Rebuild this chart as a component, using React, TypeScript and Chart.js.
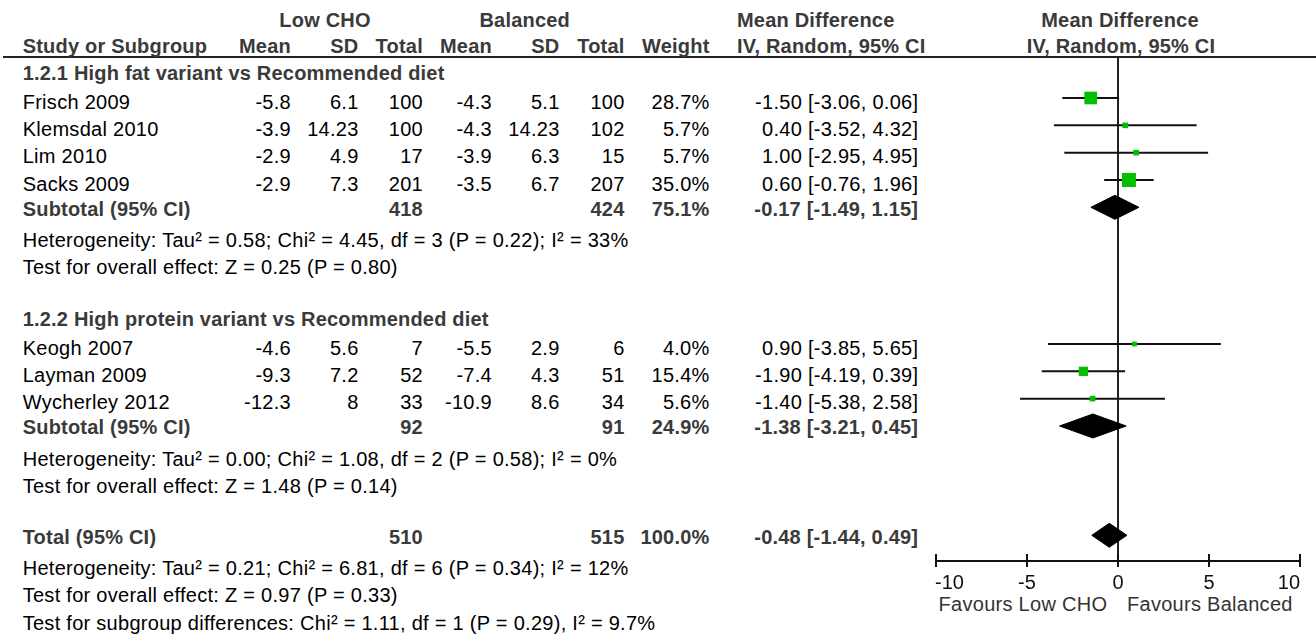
import React, { useEffect, useRef } from "react";
import { Chart, registerables } from "chart.js";

Chart.register(...registerables);

const W = 1316;
const H = 634;
const FONT = '"Liberation Sans", Arial, Helvetica, sans-serif';
const BOLD_COLOR = "#3a3a3a";
const TEXT_COLOR = "#000000";
const GREEN = "#00c000";

// ---------------- data ----------------
const groupTitles = [
  "1.2.1 High fat variant vs Recommended diet",
  "1.2.2 High protein variant vs Recommended diet",
];
const groupRows = [0, 9];

const studyNames = [
  "Frisch 2009",
  "Klemsdal 2010",
  "Lim 2010",
  "Sacks 2009",
  "Keogh 2007",
  "Layman 2009",
  "Wycherley 2012",
];
const studyRows = [1, 2, 3, 4, 10, 11, 12];
const lowMean = [-5.8, -3.9, -2.9, -2.9, -4.6, -9.3, -12.3];
const lowSD = [6.1, 14.23, 4.9, 7.3, 5.6, 7.2, 8];
const lowTotal = [100, 100, 17, 201, 7, 52, 33];
const balMean = [-4.3, -4.3, -3.9, -3.5, -5.5, -7.4, -10.9];
const balSD = [5.1, 14.23, 6.3, 6.7, 2.9, 4.3, 8.6];
const balTotal = [100, 102, 15, 207, 6, 51, 34];
const weights = [28.7, 5.7, 5.7, 35.0, 4.0, 15.4, 5.6];
const md = [-1.5, 0.4, 1.0, 0.6, 0.9, -1.9, -1.4];
const ciLow = [-3.06, -3.52, -2.95, -0.76, -3.85, -4.19, -5.38];
const ciHigh = [0.06, 4.32, 4.95, 1.96, 5.65, 0.39, 2.58];

const pooledLabels = ["Subtotal (95% CI)", "Subtotal (95% CI)", "Total (95% CI)"];
const pooledRows = [5, 13, 17];
const pooledLowTotal = [418, 92, 510];
const pooledBalTotal = [424, 91, 515];
const pooledWeight = [75.1, 24.9, 100.0];
const pooledMd = [-0.17, -1.38, -0.48];
const pooledLo = [-1.49, -3.21, -1.44];
const pooledHi = [1.15, 0.45, 0.49];

const noteTexts = [
  "Heterogeneity: Tau² = 0.58; Chi² = 4.45, df = 3 (P = 0.22); I² = 33%",
  "Test for overall effect: Z = 0.25 (P = 0.80)",
  "Heterogeneity: Tau² = 0.00; Chi² = 1.08, df = 2 (P = 0.58); I² = 0%",
  "Test for overall effect: Z = 1.48 (P = 0.14)",
  "Heterogeneity: Tau² = 0.21; Chi² = 6.81, df = 6 (P = 0.34); I² = 12%",
  "Test for overall effect: Z = 0.97 (P = 0.33)",
  "Test for subgroup differences: Chi² = 1.11, df = 1 (P = 0.29), I² = 9.7%",
];
const noteRows = [6, 7, 14, 15, 18, 19, 20];

const xTicks = [-10, -5, 0, 5, 10];
const favourLabels = ["Favours Low CHO", "Favours Balanced"];
const groupHeaders = ["Low CHO", "Balanced"];
const colHeaders = ["Mean", "SD", "Total", "Mean", "SD", "Total", "Weight"];
const effectHeader = ["Mean Difference", "IV, Random, 95% CI"];

// ---------------- layout ----------------
const Y_MIN = -0.5;
const Y_MAX = 17.94;
const AREA = { left: 936, right: 1300, top: 57, bottom: 561 };
const rowPx = (AREA.bottom - AREA.top) / (Y_MAX - Y_MIN);
const rowY = (r: number) => AREA.top + (r - Y_MIN) * rowPx;

const colRight = [290.7, 358.3, 422.7, 491.7, 559.3, 624.3, 709.3];
const CI_RIGHT = 918;
const NAME_LEFT = 22.7;
const DIAMOND_HALF = 12 / rowPx;

const fmtCI = (m: number, lo: number, hi: number) =>
  `${m.toFixed(2)} [${lo.toFixed(2)}, ${hi.toFixed(2)}]`;

type TxtProps = {
  x: number;
  y: number;
  align?: "left" | "right" | "center";
  bold?: boolean;
  color?: string;
  children: React.ReactNode;
};

function Txt({ x, y, align = "left", bold = false, color, children }: TxtProps) {
  const ls = bold ? 0.2 : 0.28;
  const style: React.CSSProperties = {
    position: "absolute",
    top: y - 9.8,
    fontFamily: FONT,
    fontSize: 20,
    lineHeight: "20px",
    whiteSpace: "nowrap",
    letterSpacing: ls,
    fontWeight: bold ? 700 : 400,
    color: color ?? (bold ? BOLD_COLOR : TEXT_COLOR),
  };
  if (align === "left") style.left = x;
  else if (align === "right") style.right = W - x - ls;
  else {
    style.left = x - 300;
    style.width = 600;
    style.textAlign = "center";
  }
  return <div style={style}>{children}</div>;
}

const axisPlugin = {
  id: "forestAxis",
  afterDraw(chart: any) {
    const { ctx, chartArea } = chart;
    const x = chart.scales.x;
    const yb = chartArea.bottom;
    ctx.save();
    ctx.strokeStyle = "#111";
    ctx.fillStyle = "#111";
    ctx.lineWidth = 2;
    ctx.font = `20px ${FONT}`;
    ctx.textBaseline = "alphabetic";
    const n = x.ticks.length;
    x.ticks.forEach((t: any, i: number) => {
      const px = x.getPixelForValue(t.value);
      ctx.beginPath();
      ctx.moveTo(px, yb - 7);
      ctx.lineTo(px, yb + 6);
      ctx.stroke();
      ctx.textAlign = i === 0 ? "left" : i === n - 1 ? "right" : "center";
      ctx.fillText(String(t.value), i === 0 ? px - 1 : px, yb + 28);
    });
    ctx.restore();
  },
};

export default function App() {
  const canvasRef = useRef<HTMLCanvasElement | null>(null);

  useEffect(() => {
    if (!canvasRef.current) return;
    const datasets: any[] = [];
    studyNames.forEach((name, i) => {
      datasets.push({
        label: name + " CI",
        data: [
          { x: ciLow[i], y: studyRows[i] },
          { x: ciHigh[i], y: studyRows[i] },
        ],
        borderColor: "#111",
        borderWidth: 2,
        pointRadius: 0,
        fill: false,
        tension: 0,
        order: 2,
      });
    });
    const radii = weights.map((w) => (2.366 * Math.sqrt(w)) / Math.SQRT2);
    datasets.push({
      label: "Study estimates",
      data: md.map((m, i) => ({ x: m, y: studyRows[i] })),
      showLine: false,
      pointStyle: "rect",
      pointRadius: radii,
      pointHoverRadius: radii,
      pointBackgroundColor: GREEN,
      pointBorderColor: GREEN,
      pointBorderWidth: 0,
      backgroundColor: GREEN,
      borderColor: GREEN,
      order: 1,
    });
    pooledMd.forEach((m, i) => {
      const r = pooledRows[i];
      datasets.push({
        label: pooledLabels[i],
        data: [
          { x: pooledLo[i], y: r },
          { x: m, y: r - DIAMOND_HALF },
          { x: pooledHi[i], y: r },
          { x: m, y: r + DIAMOND_HALF },
          { x: pooledLo[i], y: r },
        ],
        borderColor: "#000",
        backgroundColor: "#000",
        borderWidth: 1,
        pointRadius: 0,
        fill: "shape",
        tension: 0,
        order: 1,
      });
    });

    const chart = new Chart(canvasRef.current, {
      type: "line",
      data: { datasets },
      options: {
        responsive: false,
        animation: false,
        events: [],
        layout: {
          padding: {
            left: AREA.left,
            right: W - AREA.right,
            top: AREA.top,
            bottom: H - AREA.bottom - 30,
          },
        },
        plugins: {
          legend: { display: false },
          tooltip: { enabled: false },
          title: { display: false },
        },
        scales: {
          x: {
            type: "linear",
            min: -10,
            max: 10,
            afterBuildTicks: (s: any) => {
              s.ticks = xTicks.map((v) => ({ value: v }));
            },
            afterFit: (s: any) => {
              s.height = 30;
            },
            ticks: { display: false },
            grid: {
              display: true,
              drawOnChartArea: true,
              drawTicks: false,
              lineWidth: 2,
              color: (c: any) =>
                c.tick && c.tick.value === 0 ? "#222" : "rgba(0,0,0,0)",
            },
            border: { display: true, color: "#111", width: 2 },
          },
          y: {
            type: "linear",
            min: Y_MIN,
            max: Y_MAX,
            reverse: true,
            display: false,
          },
        },
      } as any,
      plugins: [axisPlugin],
    });
    return () => chart.destroy();
  }, []);

  const items: React.ReactNode[] = [];
  items.push(
    <Txt key="gh0" x={325} y={19.7} align="center" bold>{groupHeaders[0]}</Txt>,
    <Txt key="gh1" x={524.7} y={19.7} align="center" bold>{groupHeaders[1]}</Txt>,
    <Txt key="eh0" x={737} y={19.7} bold>{effectHeader[0]}</Txt>,
    <Txt key="eh1" x={737} y={45.8} bold>{effectHeader[1]}</Txt>,
    <Txt key="ph0" x={1120} y={19.7} align="center" bold>{effectHeader[0]}</Txt>,
    <Txt key="ph1" x={1121} y={45.8} align="center" bold>{effectHeader[1]}</Txt>,
    <Txt key="sh" x={NAME_LEFT} y={45.8} bold>Study or Subgroup</Txt>
  );
  colHeaders.forEach((h, i) =>
    items.push(
      <Txt key={"ch" + i} x={colRight[i]} y={45.8} align="right" bold>{h}</Txt>
    )
  );
  groupTitles.forEach((g, i) =>
    items.push(
      <Txt key={"g" + i} x={NAME_LEFT} y={rowY(groupRows[i]) + 2.5} bold>{g}</Txt>
    )
  );
  studyNames.forEach((name, i) => {
    const y = rowY(studyRows[i]) + 3.5;
    const vals = [
      String(lowMean[i]),
      String(lowSD[i]),
      String(lowTotal[i]),
      String(balMean[i]),
      String(balSD[i]),
      String(balTotal[i]),
      weights[i].toFixed(1) + "%",
    ];
    items.push(<Txt key={"n" + i} x={NAME_LEFT} y={y}>{name}</Txt>);
    vals.forEach((v, j) =>
      items.push(
        <Txt key={`v${i}_${j}`} x={colRight[j]} y={y} align="right">{v}</Txt>
      )
    );
    items.push(
      <Txt key={"ci" + i} x={CI_RIGHT} y={y} align="right">
        {fmtCI(md[i], ciLow[i], ciHigh[i])}
      </Txt>
    );
  });
  pooledLabels.forEach((lab, i) => {
    const y = rowY(pooledRows[i]) + 1;
    items.push(
      <Txt key={"pl" + i} x={NAME_LEFT} y={y} bold>{lab}</Txt>,
      <Txt key={"plt" + i} x={colRight[2]} y={y} align="right" bold>{String(pooledLowTotal[i])}</Txt>,
      <Txt key={"pbt" + i} x={colRight[5]} y={y} align="right" bold>{String(pooledBalTotal[i])}</Txt>,
      <Txt key={"pw" + i} x={colRight[6]} y={y} align="right" bold>{pooledWeight[i].toFixed(1) + "%"}</Txt>,
      <Txt key={"pci" + i} x={CI_RIGHT} y={y} align="right" bold>
        {fmtCI(pooledMd[i], pooledLo[i], pooledHi[i])}
      </Txt>
    );
  });
  noteTexts.forEach((t, i) =>
    items.push(
      <Txt key={"nt" + i} x={NAME_LEFT} y={rowY(noteRows[i]) + 5}>{t}</Txt>
    )
  );
  items.push(
    <Txt key="fav0" x={1107} y={604} align="right" color="#333">{favourLabels[0]}</Txt>,
    <Txt key="fav1" x={1127} y={604} color="#333">{favourLabels[1]}</Txt>
  );

  return (
    <div
      style={{
        position: "absolute",
        left: 0,
        top: 0,
        width: W,
        height: H,
        overflow: "hidden",
        background: "#fff",
      }}
    >
      <div
        style={{
          position: "absolute",
          left: 3,
          top: 56,
          width: W - 3,
          height: 2,
          background: "#222",
        }}
      />
      {items}
      <canvas
        ref={canvasRef}
        width={W}
        height={H}
        style={{ position: "absolute", left: 0, top: 0, width: W, height: H, display: "block" }}
      />
    </div>
  );
}
